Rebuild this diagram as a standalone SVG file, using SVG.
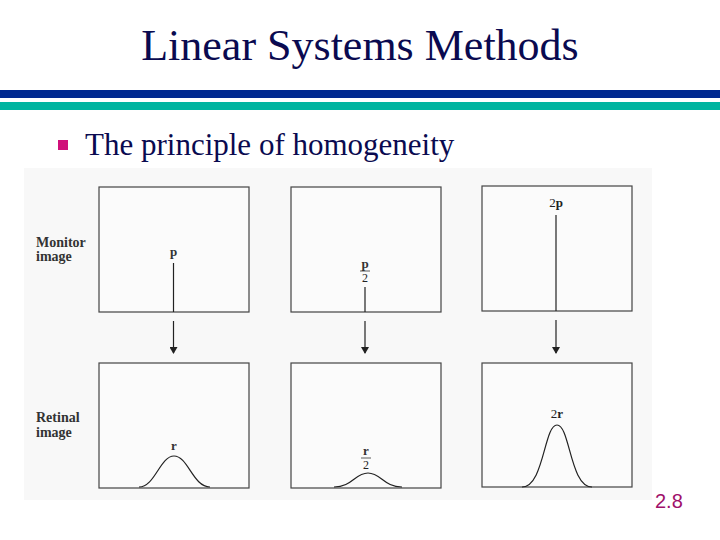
<svg xmlns="http://www.w3.org/2000/svg" width="720" height="540" viewBox="0 0 720 540">
<defs>
<style>
.t{font-family:"Liberation Serif",serif;fill:#222}
.lb{font-family:"Liberation Serif",serif;font-weight:bold;font-size:13px;fill:#333}
.sl{font-family:"Liberation Serif",serif;font-weight:bold;font-size:14px;fill:#333}
.box{fill:#fbfbfb;stroke:#444;stroke-width:1.2}
.ln{stroke:#222;stroke-width:1.2;fill:none}
</style>
<marker id="ah" markerWidth="8" markerHeight="8" refX="6" refY="4" orient="auto" markerUnits="userSpaceOnUse"><path d="M0,0 L7,4 L0,8 z" fill="#222"/></marker>
</defs>
<rect width="720" height="540" fill="#fff"/>
<text x="360" y="60" text-anchor="middle" font-family="Liberation Serif,serif" font-size="44" fill="#0a0a50">Linear Systems Methods</text>
<rect x="0" y="90" width="720" height="8" fill="#002890"/>
<rect x="0" y="102" width="720" height="8" fill="#00b4a0"/>
<rect x="58" y="140" width="10" height="10" fill="#d0107a"/>
<text x="85" y="155" font-family="Liberation Serif,serif" font-size="31" fill="#0a0a50">The principle of homogeneity</text>
<rect x="24" y="168" width="628" height="332" fill="#f8f8f8"/>
<g id="labels">
<text class="sl" x="36" y="247">Monitor</text><text class="sl" x="36" y="261">image</text>
<text class="sl" x="36" y="422">Retinal</text><text class="sl" x="36" y="437">image</text>
</g>
<g id="panel1">
<rect class="box" x="99" y="187" width="150" height="125"/>
<line class="ln" x1="173.5" y1="263" x2="173.5" y2="312"/>
<text class="lb" x="173.5" y="256" text-anchor="middle">p</text>
<rect class="box" x="99" y="363" width="150" height="125"/>
<path class="ln" d="M139,487 C155,487 160,456 174,456 C188,456 193,487 210,487"/>
<text class="lb" x="174" y="450" text-anchor="middle">r</text>
</g>
<g id="panel2">
<rect class="box" x="291" y="187" width="150" height="125"/>
<line class="ln" x1="365" y1="287" x2="365" y2="312"/>
<text class="lb" x="365" y="268" text-anchor="middle">p</text>
<line x1="360" y1="271" x2="370" y2="271" stroke="#333" stroke-width="0.8"/>
<text class="t" x="365" y="282" text-anchor="middle" font-size="12">2</text>
<rect class="box" x="291" y="363" width="150" height="125"/>
<path class="ln" d="M334,487 C352,487 355,473 368,473 C381,473 384,487 402,487"/>
<text class="lb" x="366" y="455" text-anchor="middle">r</text>
<line x1="361" y1="458" x2="371" y2="458" stroke="#333" stroke-width="0.8"/>
<text class="t" x="366" y="469" text-anchor="middle" font-size="12">2</text>
</g>
<g id="panel3">
<rect class="box" x="482" y="186" width="150" height="125"/>
<line class="ln" x1="556" y1="215" x2="556" y2="311"/>
<text class="t" x="556" y="207" text-anchor="middle" font-size="13">2<tspan font-weight="bold">p</tspan></text>
<rect class="box" x="482" y="363" width="150" height="124"/>
<path class="ln" d="M522,487 C544,487 544,425 557,425 C570,425 570,487 592,487"/>
<text class="t" x="557" y="418" text-anchor="middle" font-size="13">2<tspan font-weight="bold">r</tspan></text>
</g>
<g id="connectors">
<line class="ln" x1="173.5" y1="321" x2="173.5" y2="353" marker-end="url(#ah)"/>
<line class="ln" x1="365" y1="321" x2="365" y2="353" marker-end="url(#ah)"/>
<line class="ln" x1="556" y1="320" x2="556" y2="353" marker-end="url(#ah)"/>
</g>
<text x="655" y="508" font-family="Liberation Sans,sans-serif" font-size="20" fill="#a0106a">2.8</text>
</svg>
